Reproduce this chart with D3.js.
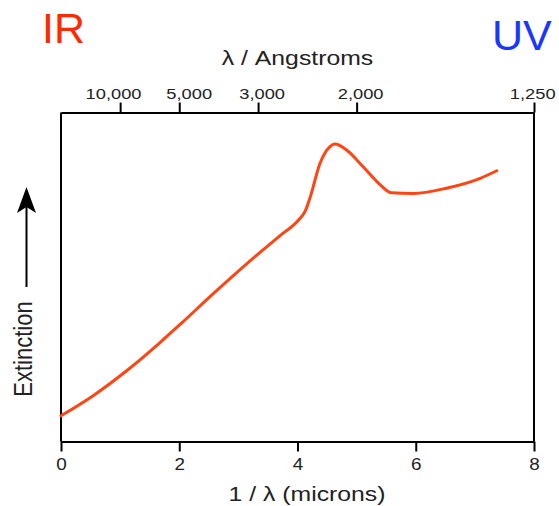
<!DOCTYPE html>
<html>
<head>
<meta charset="utf-8">
<script src="https://cdn.jsdelivr.net/npm/d3@7"></script>
<style>
  body { margin: 0; background: #fff; }
  svg { display: block; }
</style>
</head>
<body>
<script>
// 1/lambda in inverse microns, and relative extinction
const invLambda = [0, 0.55, 1.11, 1.67, 2.04, 2.58, 3.14, 3.70, 4.01, 4.13, 4.21, 4.38, 4.55, 4.63, 4.83, 5.11, 5.40, 5.59, 5.96, 6.52, 7.09, 7.37];
const extinction = [0.78, 1.40, 2.15, 3.00, 3.60, 4.50, 5.40, 6.25, 6.72, 7.00, 7.40, 8.45, 8.96, 9.04, 8.86, 8.35, 7.80, 7.56, 7.54, 7.70, 8.00, 8.23];

const bottomTicks = [0, 2, 4, 6, 8];
const angstromTicks = [10000, 5000, 3000, 2000, 1250];

const W = 559, H = 506;
const plotLeft = 61, plotRight = 534, plotTop = 112.5, plotBottom = 441.5;
const stretch = "scale(1.18,1)";
const textColor = "#222";
const fontFam = "'Liberation Sans', Arial, sans-serif";

const svg = d3.select("body")
  .append("svg")
  .attr("width", W)
  .attr("height", H);

const x = d3.scaleLinear().domain([0, 8]).range([plotLeft, plotRight]);
const y = d3.scaleLinear().domain([0, 10]).range([plotBottom, plotTop]);

// frame sides
svg.append("line")
  .attr("x1", x(0)).attr("x2", x(0))
  .attr("y1", y(0)).attr("y2", y(10))
  .attr("stroke", "#000").attr("stroke-width", 2);
svg.append("line")
  .attr("x1", x(8)).attr("x2", x(8))
  .attr("y1", y(0)).attr("y2", y(10))
  .attr("stroke", "#000").attr("stroke-width", 2);

// bottom axis
const gBottom = svg.append("g")
  .attr("transform", `translate(0,${plotBottom})`)
  .call(d3.axisBottom(x).tickValues(bottomTicks).tickSize(10).tickSizeOuter(0).tickPadding(7));

// top axis, lambda in angstroms -> 1/lambda in microns
const gTop = svg.append("g")
  .attr("transform", `translate(0,${plotTop})`)
  .call(d3.axisTop(x)
    .tickValues(angstromTicks.map((a) => 1e4 / a))
    .tickFormat((d, i) => d3.format(",")(angstromTicks[i]))
    .tickSize(10).tickSizeOuter(0).tickPadding(4));

[gBottom, gTop].forEach((g) => {
  g.select(".domain").attr("stroke", "#000").attr("stroke-width", 2);
  g.selectAll(".tick line").attr("stroke", "#000").attr("stroke-width", 2);
  g.selectAll(".tick text")
    .attr("fill", textColor)
    .style("font-family", fontFam)
    .style("font-size", "16px")
    .attr("transform", stretch);
});

// the two leftmost top labels are crowded, spread them apart a bit;
// the last one is pulled in so it stays inside the page
gTop.selectAll(".tick text")
  .style("font-size", "15.5px")
  .attr("dx", (d, i) => (i === 0 ? -6 : i === 1 ? 8 : i === 4 ? -1.5 : 3));

// curve
const line = d3.line()
  .x((d, i) => x(invLambda[i]))
  .y((d) => y(d))
  .curve(d3.curveMonotoneX);

svg.append("path")
  .datum(extinction)
  .attr("d", line)
  .attr("fill", "none")
  .attr("stroke", "#ff4514")
  .attr("stroke-width", 3)
  .attr("stroke-linecap", "round");

// axis titles
svg.append("text")
  .attr("transform", `translate(${(plotLeft + plotRight) / 2},65) ${stretch}`)
  .attr("text-anchor", "middle")
  .attr("fill", textColor)
  .style("font-family", fontFam)
  .style("font-size", "21px")
  .text("λ / Angstroms");

svg.append("text")
  .attr("transform", `translate(307,501) ${stretch}`)
  .attr("text-anchor", "middle")
  .attr("fill", textColor)
  .style("font-family", fontFam)
  .style("font-size", "21px")
  .text("1 / λ (microns)");

svg.append("text")
  .attr("transform", "translate(31.5,349) rotate(-90) scale(1,1.18)")
  .attr("text-anchor", "middle")
  .attr("fill", textColor)
  .style("font-family", fontFam)
  .style("font-size", "22px")
  .text("Extinction");

// arrow pointing up
svg.append("line")
  .attr("x1", 26.5).attr("x2", 26.5)
  .attr("y1", 287).attr("y2", 205)
  .attr("stroke", "#000").attr("stroke-width", 2);
svg.append("path")
  .attr("d", "M26.5,187 L36,213 L26.5,207 L17,213 Z")
  .attr("fill", "#000");

// IR / UV labels
svg.append("text")
  .attr("x", 42).attr("y", 43)
  .attr("fill", "#ff2a00")
  .style("font-family", fontFam)
  .style("font-size", "43px")
  .text("IR");

svg.append("text")
  .attr("x", 492).attr("y", 50)
  .attr("fill", "#1a36ff")
  .style("font-family", fontFam)
  .style("font-size", "43px")
  .text("UV");
</script>
</body>
</html>
